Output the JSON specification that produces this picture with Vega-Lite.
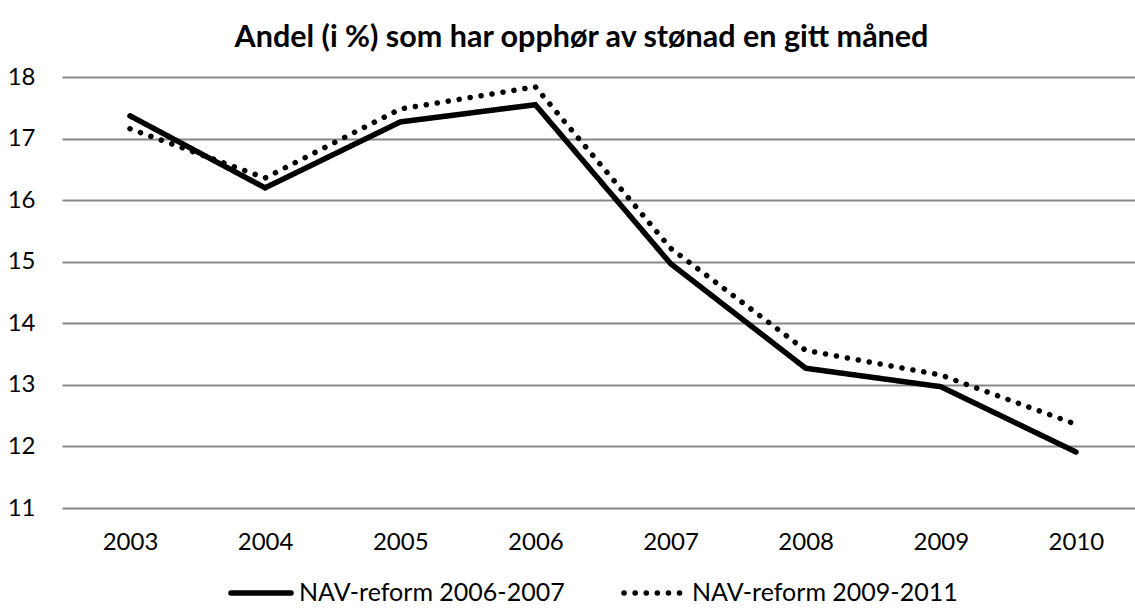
{
  "$schema": "https://vega.github.io/schema/vega-lite/v6.json",
  "width": 1073,
  "height": 431,
  "autosize": {"type": "none"},
  "padding": {"left": 62, "top": 77, "right": 0, "bottom": 101},
  "background": "white",
  "config": {"view": {"stroke": null}, "font": "Lato"},
  "title": {
    "text": "Andel (i %) som har opphør av stønad en gitt måned",
    "font": "Lato",
    "fontSize": 30.5,
    "fontWeight": "bold",
    "color": "black",
    "anchor": "middle",
    "dx": -17,
    "offset": 12
  },
  "data": {
    "values": [
      {"year": 2003, "series": "NAV-reform 2006-2007", "value": 17.37},
      {"year": 2004, "series": "NAV-reform 2006-2007", "value": 16.2},
      {"year": 2005, "series": "NAV-reform 2006-2007", "value": 17.27},
      {"year": 2006, "series": "NAV-reform 2006-2007", "value": 17.55},
      {"year": 2007, "series": "NAV-reform 2006-2007", "value": 14.97},
      {"year": 2008, "series": "NAV-reform 2006-2007", "value": 13.27},
      {"year": 2009, "series": "NAV-reform 2006-2007", "value": 12.97},
      {"year": 2010, "series": "NAV-reform 2006-2007", "value": 11.91},
      {"year": 2003, "series": "NAV-reform 2009-2011", "value": 17.16},
      {"year": 2004, "series": "NAV-reform 2009-2011", "value": 16.36},
      {"year": 2005, "series": "NAV-reform 2009-2011", "value": 17.48},
      {"year": 2006, "series": "NAV-reform 2009-2011", "value": 17.84},
      {"year": 2007, "series": "NAV-reform 2009-2011", "value": 15.22},
      {"year": 2008, "series": "NAV-reform 2009-2011", "value": 13.56},
      {"year": 2009, "series": "NAV-reform 2009-2011", "value": 13.16},
      {"year": 2010, "series": "NAV-reform 2009-2011", "value": 12.36}
    ]
  },
  "mark": {"type": "line", "color": "black", "strokeWidth": 5.5, "strokeCap": "round", "strokeJoin": "miter"},
  "encoding": {
    "x": {
      "field": "year",
      "type": "quantitative",
      "scale": {"domain": [2002.497, 2010.437], "nice": false, "zero": false},
      "axis": {
        "title": null,
        "values": [2003, 2004, 2005, 2006, 2007, 2008, 2009, 2010],
        "format": "d",
        "grid": false,
        "domain": false,
        "ticks": false,
        "labelFontSize": 24,
        "labelColor": "black",
        "labelPadding": 22,
        "labelFont": "Lato"
      }
    },
    "y": {
      "field": "value",
      "type": "quantitative",
      "scale": {"domain": [11, 18], "nice": false, "zero": false},
      "axis": {
        "title": null,
        "values": [11, 12, 13, 14, 15, 16, 17, 18],
        "grid": true,
        "gridColor": "#878787",
        "gridWidth": 2,
        "gridOpacity": 1,
        "domain": false,
        "ticks": false,
        "labelFontSize": 24,
        "labelColor": "black",
        "labelPadding": 27,
        "labelFont": "Lato"
      }
    },
    "strokeDash": {
      "field": "series",
      "type": "nominal",
      "scale": {
        "domain": ["NAV-reform 2006-2007", "NAV-reform 2009-2011"],
        "range": [[1, 0], [0.1, 11]]
      },
      "legend": {
        "title": null,
        "orient": "none",
        "direction": "horizontal",
        "legendX": 166,
        "legendY": 483,
        "symbolType": "stroke",
        "symbolSize": 3600,
        "symbolStrokeWidth": 5.5,
        "symbolStrokeColor": "black",
        "symbolOpacity": 1,
        "labelFontSize": 25,
        "labelColor": "black",
        "labelFont": "Lato",
        "labelOffset": 5,
        "columnPadding": 48,
        "labelLimit": 400,
        "encode": {
          "symbols": {"update": {"strokeCap": {"value": "round"}}}
        }
      }
    }
  }
}
